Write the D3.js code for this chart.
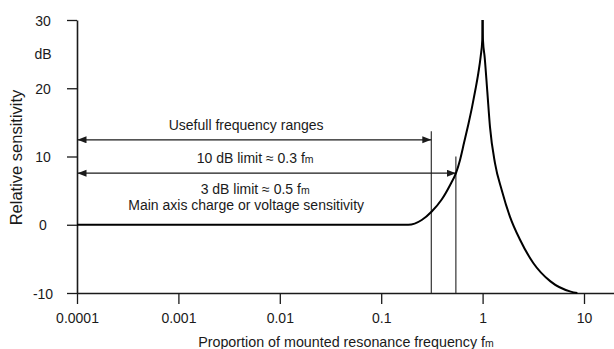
<!DOCTYPE html>
<html>
<head>
<meta charset="utf-8">
<script src="https://cdn.jsdelivr.net/npm/d3@7"></script>
<style>
  html, body { margin: 0; padding: 0; background: #fff; }
  svg { display: block; font-family: "Liberation Sans", Arial, sans-serif; }
</style>
</head>
<body>
<div id="chart"></div>
<script>
// rising branch (below resonance)
const riseFreq = [0.0001, 0.185, 0.251, 0.315, 0.395, 0.477, 0.547, 0.599, 0.656, 0.723, 0.786, 0.847, 0.907, 0.958, 0.993, 1.0];
const riseDb   = [0, 0, 0.7, 1.95, 3.7, 5.8, 7.6, 9.5, 12.0, 14.7, 17.2, 19.7, 22.2, 24.7, 27.1, 30];

// falling branch (above resonance)
const fallFreq = [1.0, 1.008, 1.049, 1.113, 1.183, 1.326, 1.543, 1.86, 2.34, 3.16, 4.67, 7.4, 8.6];
const fallDb   = [30, 27.1, 24.5, 19.5, 14.3, 9.0, 5.1, 1.2, -2.2, -5.6, -8.3, -9.8, -10];

const xTicks = [0.0001, 0.001, 0.01, 0.1, 1, 10];
const xTickLabels = ["0.0001", "0.001", "0.01", "0.1", "1", "10"];
const yTicks = [-10, 0, 10, 20, 30];

// annotation: limit frequencies, arrow levels (dB) and vertical line tops (dB)
const limitFreq = [0.312, 0.545];
const arrowDb = [12.45, 7.55];
const limitTopDb = [13.7, 10.0];

const width = 614, height = 349;
const margin = {left: 77, top: 20, bottom: 56};

const svg = d3.select("#chart").append("svg")
    .attr("width", width)
    .attr("height", height);

const x = d3.scaleLog()
    .domain([0.0001, Math.pow(10, 1.3)])
    .range([margin.left, margin.left + 5.3 * 101.4]);

const y = d3.scaleLinear()
    .domain([-10, 30])
    .range([height - margin.bottom, margin.top]);

const ink = "#1a1a1a";

// axes
const xAxis = svg.append("g")
    .attr("transform", `translate(0,${y(-10)})`)
    .call(d3.axisBottom(x).tickValues(xTicks).tickFormat((d, i) => xTickLabels[i]).tickSize(11).tickSizeOuter(0));

const yAxis = svg.append("g")
    .attr("transform", `translate(${x(0.0001)},0)`)
    .call(d3.axisLeft(y).tickValues(yTicks).tickFormat(d => String(d)).tickSize(10).tickSizeOuter(0));

[xAxis, yAxis].forEach(g => {
    g.attr("font-family", null).attr("font-size", 14);
    g.selectAll("path.domain").attr("stroke", ink).attr("stroke-width", 1.6);
    g.selectAll(".tick line").attr("stroke", ink).attr("stroke-width", 1.3);
    g.selectAll(".tick text").attr("fill", ink);
});
xAxis.selectAll(".tick text").attr("dy", null).attr("y", 30);
yAxis.selectAll(".tick text")
    .attr("text-anchor", "middle")
    .attr("x", -34)
    .attr("dy", "0.36em");

// unit label
svg.append("text")
    .attr("x", x(0.0001) - 34)
    .attr("y", y(25) + 5)
    .attr("text-anchor", "middle")
    .attr("font-size", 14)
    .attr("fill", ink)
    .text("dB");

// axis titles
svg.append("text")
    .attr("transform", `translate(22,${(y(30) + y(-10)) / 2 + 1}) rotate(-90)`)
    .attr("text-anchor", "middle")
    .attr("font-size", 16.5)
    .attr("fill", ink)
    .text("Relative sensitivity");

const xt = svg.append("text")
    .attr("x", 346)
    .attr("y", 347)
    .attr("text-anchor", "middle")
    .attr("font-size", 14.3)
    .attr("fill", ink)
    .text("Proportion of mounted resonance frequency f");
xt.append("tspan").attr("font-size", 10.5).text("m");

// vertical limit lines
svg.append("g").selectAll("line")
    .data(limitFreq)
    .join("line")
    .attr("x1", d => x(d))
    .attr("x2", d => x(d))
    .attr("y1", (d, i) => y(limitTopDb[i]))
    .attr("y2", y(-10))
    .attr("stroke", "#333")
    .attr("stroke-width", 1.2);

// arrow heads (same shape at both ends, start one is reversed)
svg.append("defs").append("marker")
    .attr("id", "arr")
    .attr("markerUnits", "userSpaceOnUse")
    .attr("markerWidth", 10)
    .attr("markerHeight", 8)
    .attr("refX", 9)
    .attr("refY", 3.5)
    .attr("orient", "auto-start-reverse")
    .append("path")
    .attr("d", "M0,0L9,3.5L0,7Z")
    .attr("fill", ink);

svg.append("g").selectAll("line")
    .data(arrowDb)
    .join("line")
    .attr("x1", x(0.0001) + 0.5)
    .attr("x2", (d, i) => x(limitFreq[i]))
    .attr("y1", d => y(d))
    .attr("y2", d => y(d))
    .attr("stroke", ink)
    .attr("stroke-width", 1.3)
    .attr("marker-start", "url(#arr)")
    .attr("marker-end", "url(#arr)");

// annotation text
const cx = (x(0.0001) + x(limitFreq[0])) / 2;
function note(txt, xx, yy, sub) {
    const t = svg.append("text")
        .attr("x", xx)
        .attr("y", yy)
        .attr("text-anchor", "middle")
        .attr("font-size", 14)
        .attr("fill", ink)
        .text(txt);
    if (sub) t.append("tspan").attr("font-size", 10.5).text(sub);
}
note("Usefull frequency ranges", cx - 8, y(arrowDb[0]) - 10);
note("10 dB limit \u2248 0.3 f", cx + 1, y(arrowDb[0]) + 23, "m");
note("3 dB limit \u2248 0.5 f", cx + 1, y(arrowDb[1]) + 21, "m");
note("Main axis charge or voltage sensitivity", cx - 8, y(arrowDb[1]) + 37);

// response curve, drawn as two branches so the resonance peak stays sharp
const line = d3.line()
    .x(d => x(d[0]))
    .y(d => y(d[1]))
    .curve(d3.curveMonotoneX);

svg.append("g").selectAll("path")
    .data([d3.zip(riseFreq, riseDb), d3.zip(fallFreq, fallDb)])
    .join("path")
    .attr("d", line)
    .attr("fill", "none")
    .attr("stroke", "#000")
    .attr("stroke-width", 2)
    .attr("stroke-linejoin", "miter");
</script>
</body>
</html>
